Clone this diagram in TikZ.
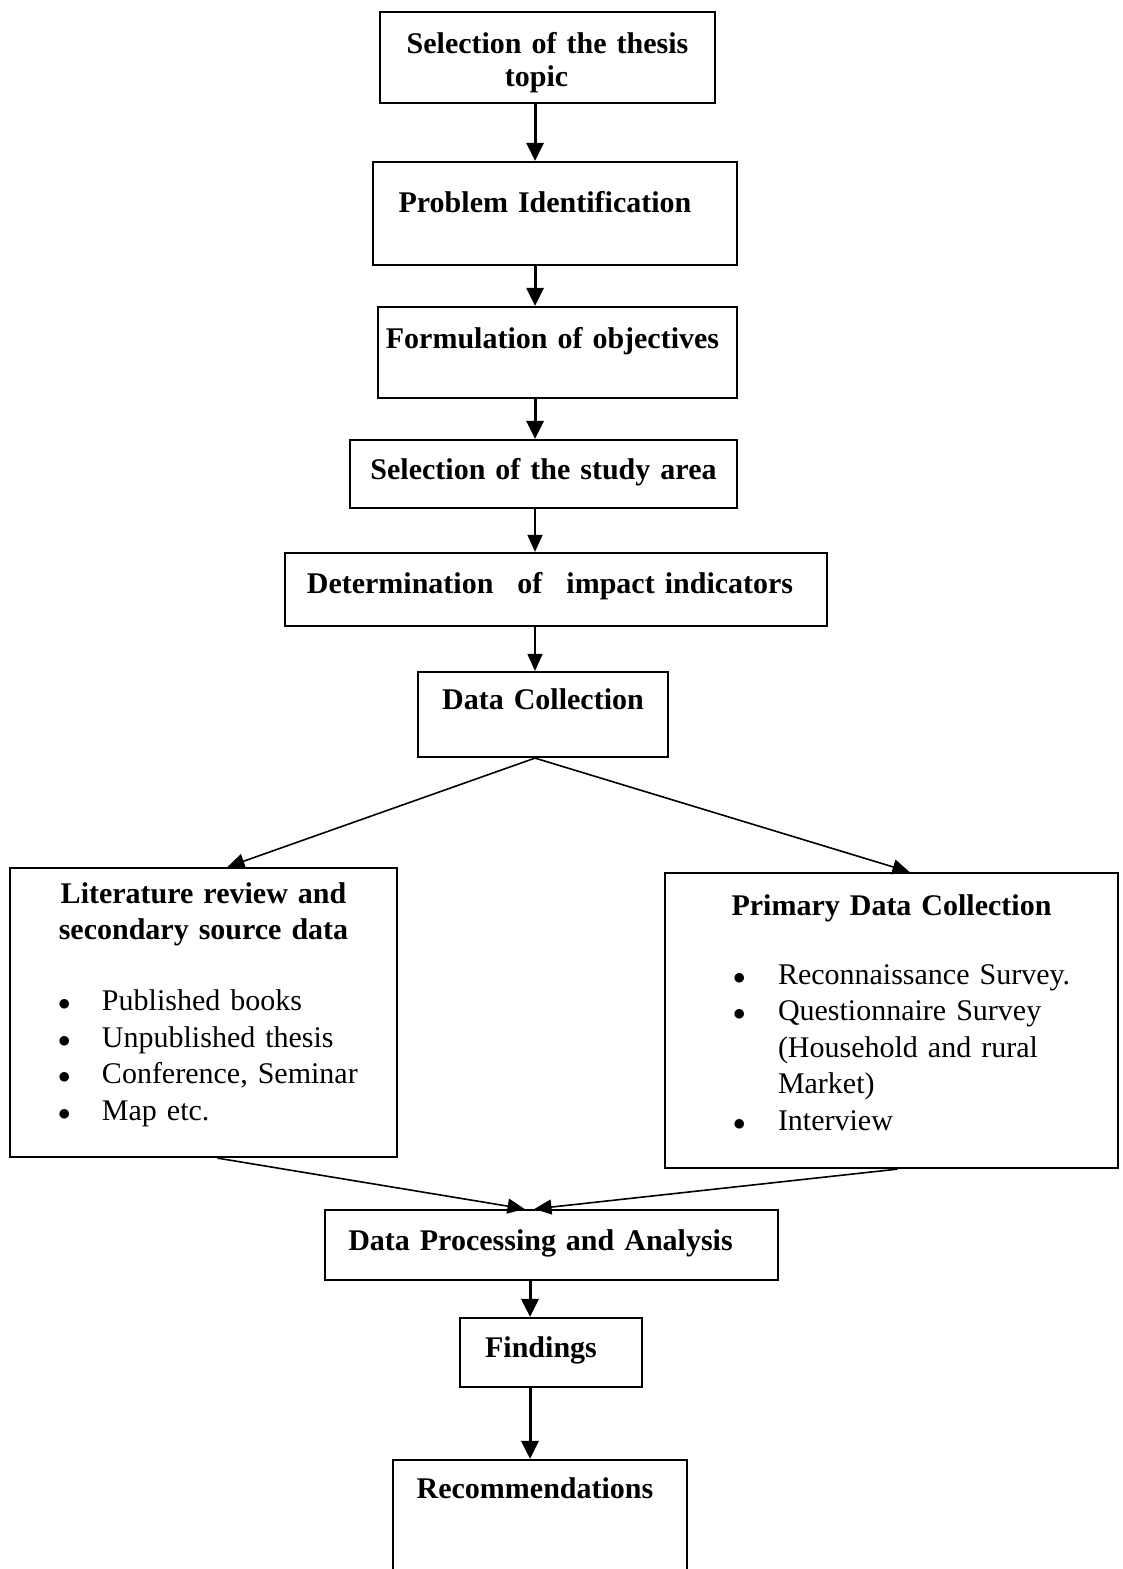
\documentclass[tikz,border=0pt]{standalone}
\usepackage{fontspec}
\setmainfont{Liberation Serif}
\usetikzlibrary{arrows.meta}

\begin{document}
\begin{tikzpicture}[x=1pt,y=-1pt,
    stage/.style={draw, line width=2.2pt, anchor=base, inner sep=0pt, align=center,
        font=\fontsize{30}{33}\selectfont\bfseries},
    nudge/.style={execute at end node={\hspace*{#1}}},
    listbox/.style={draw, line width=2.2pt, anchor=base, inner sep=0pt, align=left,
        font=\fontsize{30}{36.5}\selectfont},
    flow/.style={line width=3pt, -{Triangle[length=18pt,width=17pt]}},
    thinflow/.style={line width=1.6pt, -{Triangle[length=17pt,width=15pt]}}]
    \useasboundingbox (0,0) rectangle (1123,1569);
    \coordinate (spine) at (535,0);
    \coordinate (lowspine) at (530,0);

    \node[stage, nudge=22pt, text width=335pt, text height=41pt, text depth=50pt] (topic) at (547.5,53) {Selection of the thesis\hspace*{22pt}\\topic};
    \node[stage, nudge=20pt, text width=364pt, text height=50pt, text depth=53pt] (problem) at (555,212) {Problem Identification};
    \node[stage, nudge=10pt, text width=359pt, text height=41pt, text depth=50pt] (objectives) at (557.5,348) {Formulation of objectives};
    \node[stage, text width=387pt, text height=39pt, text depth=29pt] (area) at (543.5,479) {Selection of the study area};
    \node[stage, nudge=12pt, text width=542pt, text height=40pt, text depth=33pt] (indicators) at (556,593) {Determination\hspace{24pt}of\hspace{24pt}impact indicators};
    \node[stage, text width=250pt, text height=37pt, text depth=48pt] (data) at (543,709) {Data Collection};

    \node[listbox, text width=387pt, text height=35pt, text depth=254pt] (literature) at (203.5,903)
        {\makebox[387pt]{\bfseries Literature review and}\\
         \makebox[387pt]{\bfseries secondary source data}\\[34.5pt]
         \hspace*{48pt}\makebox[44pt][l]{$\bullet$}Published books\\
         \hspace*{48pt}\makebox[44pt][l]{$\bullet$}Unpublished thesis\\
         \hspace*{48pt}\makebox[44pt][l]{$\bullet$}Conference, Seminar\\
         \hspace*{48pt}\makebox[44pt][l]{$\bullet$}Map etc.};
    \node[listbox, text width=453pt, text height=42pt, text depth=253pt] (primary) at (891.5,915)
        {\makebox[453pt]{\bfseries Primary Data Collection}\\[32.5pt]
         \hspace*{68pt}\makebox[45pt][l]{$\bullet$}Reconnaissance Survey.\\
         \hspace*{68pt}\makebox[45pt][l]{$\bullet$}Questionnaire Survey\\
         \hspace*{113pt}(Household and rural\\
         \hspace*{113pt}Market)\\
         \hspace*{68pt}\makebox[45pt][l]{$\bullet$}Interview};

    \node[stage, nudge=22pt, text width=453pt, text height=40pt, text depth=30pt] (process) at (551.5,1250) {Data Processing and Analysis};
    \node[stage, nudge=20pt, text width=182pt, text height=39pt, text depth=30pt] (findings) at (551,1357) {Findings};
    \node[stage, nudge=10pt, text width=294pt, text height=38pt, text depth=80pt] (recommend) at (540,1498) {Recommendations};

    \draw[flow] (topic.south -| spine) -- (problem.north -| spine);
    \draw[flow] (problem.south -| spine) -- (objectives.north -| spine);
    \draw[flow] (objectives.south -| spine) -- (area.north -| spine);
    \draw[thinflow] (area.south -| spine) -- (indicators.north -| spine);
    \draw[thinflow] (indicators.south -| spine) -- (data.north -| spine);
    \draw[thinflow] (data.south -| spine) -- ([xshift=24pt]literature.north);
    \draw[thinflow] (data.south -| spine) -- ([xshift=18pt]primary.north);
    \draw[thinflow] ([xshift=14pt]literature.south) -- ([xshift=-27pt]process.north);
    \draw[thinflow] ([xshift=6pt]primary.south) -- ([xshift=-17pt]process.north);
    \draw[flow] (process.south -| lowspine) -- (findings.north -| lowspine);
    \draw[flow] (findings.south -| lowspine) -- (recommend.north -| lowspine);
\end{tikzpicture}
\end{document}
